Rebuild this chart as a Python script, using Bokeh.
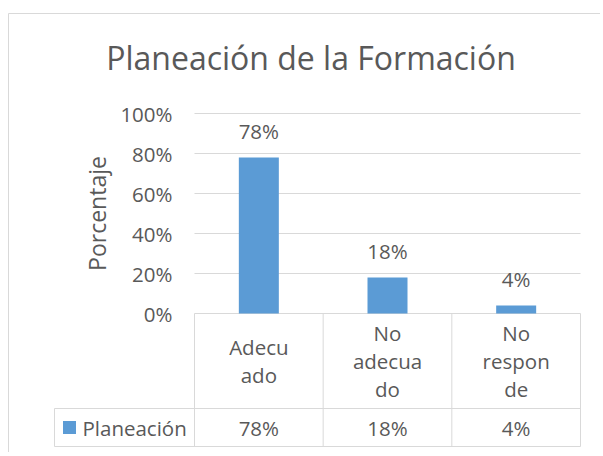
import math
from bokeh.plotting import figure
from bokeh.models import Range1d, ColumnDataSource
from bokeh.core.properties import value
from bokeh.embed import file_html
from bokeh.resources import INLINE

# ---------------- data ----------------
categories = ["Adecuado", "No adecuado", "No responde"]
category_labels = ["Adecu\nado", "No\nadecua\ndo", "No\nrespon\nde"]
series_name = "Planeación"
values = [0.78, 0.18, 0.04]
value_labels = ["78%", "18%", "4%"]
y_ticks = [0, 0.2, 0.4, 0.6, 0.8, 1.0]
y_tick_labels = ["0%", "20%", "40%", "60%", "80%", "100%"]
title_text = "Planeación de la Formación"
y_title = "Porcentaje"

# ---------------- style ----------------
FONT = "Open Sans"
TEXT = "#595959"
GRID = "#D9D9D9"
BAR = "#5B9BD5"
FS = "20.5px"

# ---------------- layout (canvas pixels) ----------------
W, H = 600, 452
PLOT_LEFT, PLOT_RIGHT = 194, 580     # plot area / table category columns
ZERO_PX, ONE_PX = 313, 113           # pixel rows of 0% and 100%
ROW1_PX, ROW2_PX = 408, 446          # table row borders
TABLE_LEFT_PX = 54
BORDER_X_PX, BORDER_Y_PX = 8, 13

n = len(categories)
SX = (PLOT_RIGHT - PLOT_LEFT) / n    # px per category
SY = (ZERO_PX - ONE_PX) / 1.0        # px per unit of value


def dx(px):
    return (px - PLOT_LEFT) / SX


def dy(py):
    return (ZERO_PX - py) / SY


p = figure(width=W, height=H, x_range=Range1d(dx(0), dx(W)),
           y_range=Range1d(dy(H), dy(0)), x_axis_type=None, y_axis_type=None,
           toolbar_location=None, output_backend="svg",
           min_border=0, outline_line_color=None,
           background_fill_color="white", border_fill_color="white")
p.grid.visible = False

xs = [i + 0.5 for i in range(n)]

# outer chart border (left / top edges visible)
p.segment(x0=[dx(BORDER_X_PX), dx(BORDER_X_PX)], y0=[dy(BORDER_Y_PX), dy(BORDER_Y_PX)],
          x1=[dx(BORDER_X_PX), dx(W)], y1=[dy(H), dy(BORDER_Y_PX)],
          line_color=GRID, line_width=1)

# title
p.text(x=[dx(310.5)], y=[dy(57)], text=[title_text], text_align="center",
       text_baseline="alphabetic", text_font=value(FONT), text_font_size="32px",
       text_color=TEXT)

# gridlines (value axis)
p.segment(x0=[0] * len(y_ticks), y0=y_ticks, x1=[n] * len(y_ticks), y1=y_ticks,
          line_color=GRID, line_width=1)
# value-axis tick labels
p.text(x=[dx(172)] * len(y_ticks), y=y_ticks, text=y_tick_labels, text_align="right",
       text_baseline="middle", text_font=value(FONT), text_font_size=FS,
       text_color=TEXT)
# value-axis title
p.text(x=[dx(96)], y=[0.5], text=[y_title], angle=math.pi / 2, text_align="center",
       text_baseline="middle", text_font=value(FONT), text_font_size="23px",
       text_color=TEXT)

# bars + data labels
src = ColumnDataSource(dict(x=xs, top=values, lab=value_labels))
p.vbar(x="x", top="top", bottom=0, width=40 / SX, source=src,
       fill_color=BAR, line_color=None)
p.text(x="x", y="top", text="lab", source=src, text_align="center",
       text_baseline="bottom", y_offset=-13, text_font=value(FONT),
       text_font_size=FS, text_color=TEXT)

# data table
r1, r2 = dy(ROW1_PX), dy(ROW2_PX)
xl = dx(TABLE_LEFT_PX)
x0s = [xl, xl] + [float(i) for i in range(n + 1)] + [xl]
x1s = [n, n] + [float(i) for i in range(n + 1)] + [xl]
y0s = [r1, r2] + [0.0] * (n + 1) + [r1]
y1s = [r1, r2] + [r2] * (n + 1) + [r2]
p.segment(x0=x0s, y0=y0s, x1=x1s, y1=y1s, line_color=GRID, line_width=1)

p.text(x=xs, y=[r1 / 2] * n, text=category_labels, text_align="center",
       text_baseline="middle", text_line_height=1.0, text_font=value(FONT),
       text_font_size=FS, text_color=TEXT)
row2_mid = (r1 + r2) / 2
p.text(x=xs, y=[row2_mid] * n, text=value_labels, text_align="center",
       text_baseline="middle", text_font=value(FONT), text_font_size=FS,
       text_color=TEXT)

p.scatter(x=[dx(69)], y=[row2_mid], marker="square", size=13,
          fill_color=BAR, line_color=None)
p.text(x=[dx(82)], y=[row2_mid], text=[series_name], text_align="left",
       text_baseline="middle", text_font=value(FONT), text_font_size=FS,
       text_color=TEXT)

open("out.html", "w").write(file_html(p, INLINE))
